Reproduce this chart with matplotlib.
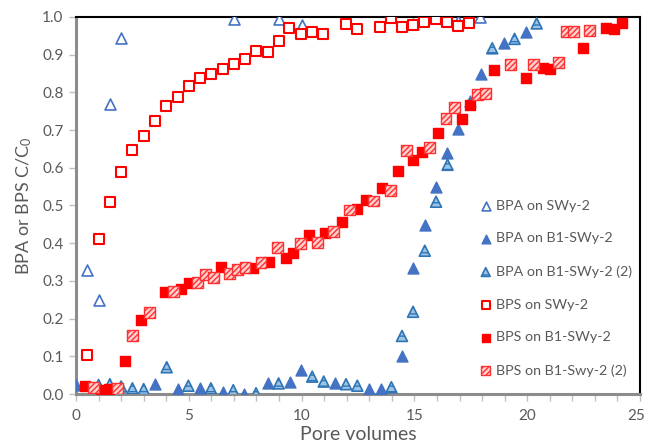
import matplotlib
matplotlib.use("Agg")
import matplotlib.pyplot as plt
import matplotlib.transforms as mtransforms
from matplotlib.ticker import MultipleLocator, FormatStrFormatter

plt.rcParams['font.family'] = ['Lato', 'DejaVu Sans']
plt.rcParams['mathtext.fontset'] = 'custom'
plt.rcParams['mathtext.rm'] = 'Lato'
plt.rcParams['mathtext.it'] = 'Lato'
plt.rcParams['hatch.linewidth'] = 1.0

# BPA on SWy-2
bpa_swy_x = [0.5, 1.0, 1.5, 2.0, 7.0, 9.0, 10.0, 14.95, 16.95, 17.9]
bpa_swy_y = [0.33, 0.25, 0.77, 0.945, 0.995, 0.995, 0.98, 0.982, 0.99, 1.0]

# BPA on B1-SWy-2
bpa_b1_x = [0.0, 3.5, 4.5, 5.5, 6.5, 7.45, 8.5, 9.5, 9.97, 11.5, 13.0, 13.5,
            14.45, 14.95, 15.45, 15.96, 16.46, 16.95, 17.45, 17.94, 18.96, 19.95]
bpa_b1_y = [0.024, 0.026, 0.013, 0.016, 0.006, 0.001, 0.028, 0.031, 0.063, 0.029, 0.013, 0.012,
            0.10, 0.333, 0.448, 0.55, 0.64, 0.702, 0.778, 0.849, 0.93, 0.96]

# BPA on B1-SWy-2 (2)
bpa_b1b_x = [1.0, 1.5, 2.0, 2.5, 3.0, 4.02, 4.98, 5.98, 6.97, 7.98, 8.98, 10.47, 10.98,
             11.97, 12.47, 13.98, 14.45, 14.94, 15.46, 15.96, 16.47, 18.45, 19.44, 20.42]
bpa_b1b_y = [0.024, 0.026, 0.02, 0.015, 0.013, 0.071, 0.022, 0.015, 0.01, 0.002, 0.028, 0.046, 0.033,
             0.026, 0.022, 0.018, 0.154, 0.218, 0.38, 0.51, 0.608, 0.917, 0.942, 0.983]

# BPS on SWy-2
bps_swy_x = [0.5, 1.0, 1.5, 2.0, 2.5, 3.0, 3.5, 4.0, 4.5, 5.0, 5.5, 6.0, 6.5, 7.0, 7.5, 8.0,
             8.5, 9.0, 9.46, 9.97, 10.47, 10.96, 11.95, 12.47, 13.47, 13.95, 14.44, 14.95,
             15.44, 15.94, 16.45, 16.95, 17.43]
bps_swy_y = [0.104, 0.41, 0.51, 0.59, 0.648, 0.684, 0.725, 0.763, 0.788, 0.817, 0.837, 0.849,
             0.861, 0.875, 0.889, 0.91, 0.908, 0.936, 0.97, 0.956, 0.96, 0.956, 0.981, 0.968,
             0.974, 0.998, 0.974, 0.979, 0.988, 0.995, 0.988, 0.976, 0.983]

# BPS on B1-SWy-2
bps_b1_x = [0.4, 1.1, 1.45, 2.17, 2.88, 3.95, 4.64, 5.0, 6.43, 7.86, 8.55, 9.3, 9.63, 10.34,
            11.04, 11.78, 12.47, 12.84, 13.55, 14.26, 14.95, 15.32, 16.06, 17.12, 17.46,
            18.54, 19.95, 20.68, 21.0, 22.46, 23.5, 23.85, 24.2]
bps_b1_y = [0.022, 0.011, 0.013, 0.087, 0.196, 0.27, 0.278, 0.294, 0.338, 0.333, 0.349, 0.362,
            0.375, 0.422, 0.426, 0.455, 0.49, 0.515, 0.547, 0.592, 0.62, 0.643, 0.691, 0.729,
            0.766, 0.859, 0.839, 0.866, 0.861, 0.918, 0.97, 0.967, 0.983]

# BPS on B1-Swy-2 (2)
bps_b1b_x = [0.77, 1.83, 2.51, 3.24, 4.31, 5.38, 5.72, 6.09, 6.8, 7.15, 7.49, 8.2, 8.92, 9.97,
             10.71, 11.41, 12.12, 13.2, 13.92, 14.63, 15.69, 16.4, 16.77, 17.8, 18.17, 19.24,
             20.3, 21.37, 21.72, 22.07, 22.78]
bps_b1b_y = [0.017, 0.015, 0.156, 0.217, 0.272, 0.295, 0.317, 0.309, 0.32, 0.331, 0.335, 0.35,
             0.389, 0.398, 0.401, 0.432, 0.488, 0.512, 0.54, 0.646, 0.655, 0.73, 0.759, 0.794,
             0.797, 0.873, 0.874, 0.88, 0.961, 0.961, 0.963]

labels = ["BPA on SWy-2", "BPA on B1-SWy-2", "BPA on B1-SWy-2 (2)",
          "BPS on SWy-2", "BPS on B1-SWy-2", "BPS on B1-Swy-2 (2)"]

fig = plt.figure(figsize=(6.46, 4.47), dpi=100)
ax = fig.add_axes([76/646, 1-394/447, 564/646, 377/447])

blue = '#4472C4'
red = '#FF0000'
ms = 62

h1 = ax.scatter(bpa_swy_x, bpa_swy_y, marker='^', s=ms, facecolors='white',
                edgecolors=blue, linewidths=1.2, label=labels[0], zorder=3)
h2 = ax.scatter(bpa_b1_x, bpa_b1_y, marker='^', s=ms, facecolors=blue,
                edgecolors=blue, linewidths=1.0, label=labels[1], zorder=3)
h3 = ax.scatter(bpa_b1b_x, bpa_b1b_y, marker='^', s=ms, facecolors='#9DC3E6',
                edgecolors='#2E75B6', linewidths=1.2, hatch='---', label=labels[2], zorder=3)
h4 = ax.scatter(bps_swy_x, bps_swy_y, marker='s', s=ms, facecolors='white',
                edgecolors=red, linewidths=1.5, label=labels[3], zorder=4)
h5 = ax.scatter(bps_b1_x, bps_b1_y, marker='s', s=ms, facecolors=red,
                edgecolors=red, linewidths=1.0, label=labels[4], zorder=4)
h6 = ax.scatter(bps_b1b_x, bps_b1b_y, marker='s', s=ms, facecolors='#FFD0D0',
                edgecolors='#FF3030', linewidths=1.0, hatch='//////', label=labels[5], zorder=4)

ax.set_xlim(0, 25)
ax.set_ylim(0, 1.0)
ax.xaxis.set_major_locator(MultipleLocator(5))
ax.xaxis.set_minor_locator(MultipleLocator(1))
ax.yaxis.set_major_locator(MultipleLocator(0.1))
ax.yaxis.set_major_formatter(FormatStrFormatter('%.1f'))

gray = '#8C8C8C'
txt = '#595959'
for s in ['left', 'bottom']:
    ax.spines[s].set_color(gray)
    ax.spines[s].set_linewidth(2.2)
for s in ['top', 'right']:
    ax.spines[s].set_color('black')
    ax.spines[s].set_linewidth(1.5)
ax.tick_params(axis='both', which='both', direction='out', color='#BFBFBF', width=1.0,
               labelcolor=txt, labelsize=11)
ax.tick_params(axis='x', which='major', length=5, pad=6)
ax.tick_params(axis='x', which='minor', length=5)
ax.tick_params(axis='y', which='major', length=5, pad=4)
ax.tick_params(top=False, right=False)

ax.set_xlabel('Pore volumes', fontsize=14, color=txt, labelpad=2)
ax.set_ylabel('BPA or BPS C/C$_0$', fontsize=13, color=txt, labelpad=6)

leg = ax.legend(handles=[h1, h2, h3, h4, h5, h6], loc='upper left',
                bbox_to_anchor=(470/646, 1-194/447), bbox_transform=fig.transFigure,
                frameon=False, fontsize=10.3, handletextpad=0.0, labelspacing=1.45,
                handlelength=1.4, markerscale=0.8, borderaxespad=0)
for t in leg.get_texts():
    t.set_color(txt)

# nudge the last x tick label ("25") slightly left so it stays inside the canvas
fig.canvas.draw()
for tick in ax.xaxis.get_major_ticks():
    if abs(tick.get_loc() - 25) < 1e-6:
        off = mtransforms.ScaledTranslation(-4/100, 0, fig.dpi_scale_trans)
        tick.label1.set_transform(tick.label1.get_transform() + off)

fig.savefig('out.png', dpi=100)
